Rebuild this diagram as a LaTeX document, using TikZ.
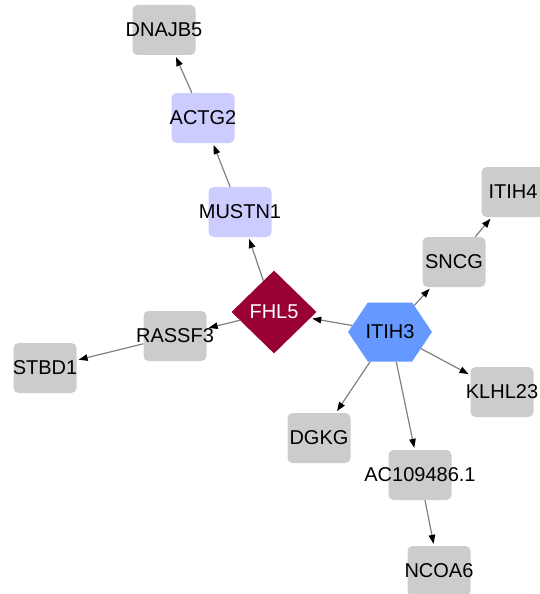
\documentclass[tikz,border=0pt]{standalone}
\usepackage{fontspec}
\setmainfont{Liberation Sans}
\usetikzlibrary{shapes.geometric,shapes.symbols,arrows.meta}
\definecolor{genegray}{HTML}{CCCCCC}
\definecolor{genelav}{HTML}{CCCCFF}
\definecolor{hubred}{HTML}{990033}
\definecolor{hubblue}{HTML}{6699FF}
\definecolor{edgegray}{HTML}{808080}
\newcommand{\gname}[1]{\makebox[0pt]{#1}}

\begin{document}
\begin{tikzpicture}[x=1pt,y=-1pt,
  gene/.style={rectangle, rounded corners=5pt, fill=genegray,
    minimum width=63pt, minimum height=50pt, inner sep=0pt,
    font=\fontsize{20}{23}\selectfont},
  lavgene/.style={gene, fill=genelav},
  link/.style={draw=edgegray, line width=1.2pt, shorten >=2pt,
    -{Triangle[length=9pt,width=6.5pt,color=black]}}]
  \useasboundingbox (0,0) rectangle (540,594);

  \node[gene] (DNAJB5) at (164,30) {\gname{DNAJB5}};
  \node[lavgene] (ACTG2) at (203,118) {\gname{ACTG2}};
  \node[lavgene] (MUSTN1) at (240,212) {\gname{MUSTN1}};
  \node[diamond, fill=hubred, text=white, minimum width=85pt,
    minimum height=83pt, inner sep=0pt,
    font=\fontsize{20}{23}\selectfont] (FHL5) at (274,312) {\gname{FHL5}};
  \node[signal, signal to=east and west, signal pointer angle=112,
    fill=hubblue, minimum width=84pt, minimum height=59pt, inner sep=0pt,
    font=\fontsize{20}{23}\selectfont] (ITIH3) at (390,332) {\gname{ITIH3}};
  \node[gene] (RASSF3) at (175,336) {\gname{RASSF3}};
  \node[gene] (STBD1) at (45,368) {\gname{STBD1}};
  \node[gene] (SNCG) at (454,262) {\gname{SNCG}};
  \node[gene] (ITIH4) at (513,192) {\gname{ITIH4}};
  \node[gene] (KLHL23) at (502,392) {\gname{KLHL23}};
  \node[gene] (DGKG) at (319,438) {\gname{DGKG}};
  \node[gene] (AC109486) at (420,475) {\gname{AC109486.1}};
  \node[gene] (NCOA6) at (439,571) {\gname{NCOA6}};

  \draw[link] (ACTG2) -- (DNAJB5);
  \draw[link] (MUSTN1) -- (ACTG2);
  \draw[link] (FHL5) -- (MUSTN1);
  \draw[link] (FHL5) -- (RASSF3);
  \draw[link] (RASSF3) -- (STBD1);
  \draw[link] (ITIH3) -- (FHL5);
  \draw[link] (ITIH3) -- (SNCG);
  \draw[link] (SNCG) -- (ITIH4);
  \draw[link] (ITIH3) -- (KLHL23);
  \draw[link] (ITIH3) -- (DGKG);
  \draw[link] (ITIH3) -- (AC109486);
  \draw[link] (AC109486) -- (NCOA6);

\end{tikzpicture}
\end{document}
